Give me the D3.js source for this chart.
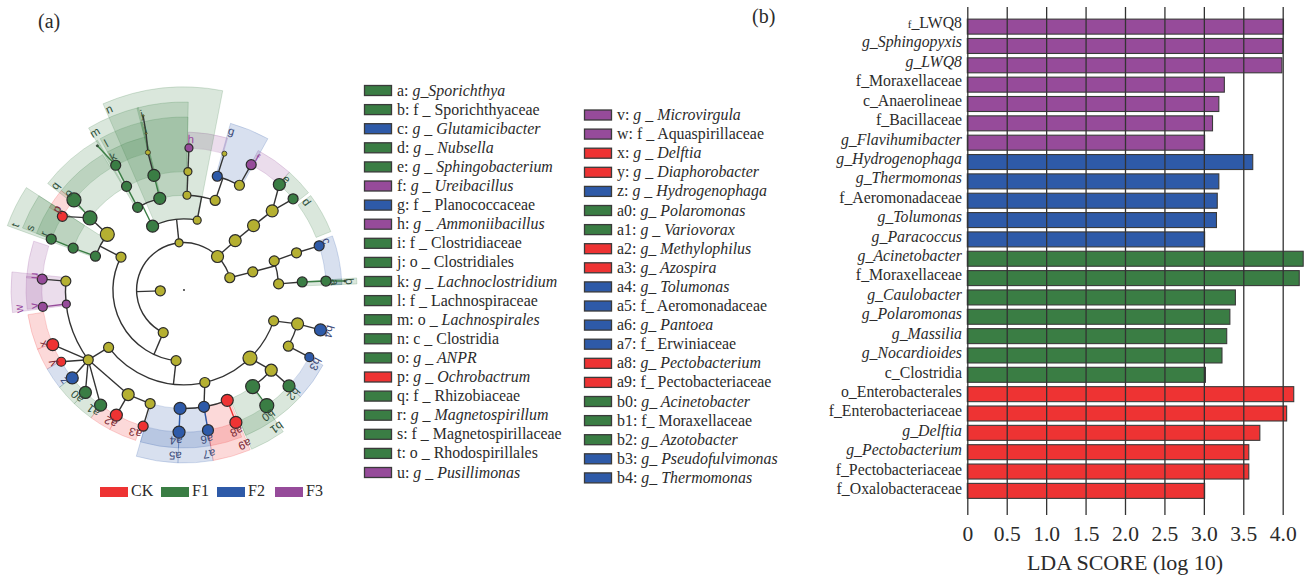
<!DOCTYPE html>
<html>
<head>
<meta charset="utf-8">
<script src="https://cdn.jsdelivr.net/npm/d3@7"></script>
<style>
  html, body { margin: 0; padding: 0; background: #fff; }
  text { font-family: "Liberation Serif", serif; fill: #2b2b2b; }
  .wheel-label { font-family: "Liberation Sans", sans-serif; font-size: 11.5px; }
</style>
</head>
<body>
<svg width="1308" height="578"></svg>
<script>
var svg = d3.select("svg");

var groupColor = { Y: "#b5b031", CK: "#ee3333", F1: "#3a7d44", F2: "#2e5aa8", F3: "#964b9a" };
var labelColor = { CK: "#7a2a35", F1: "#2f4f3a", F2: "#3b4a78", F3: "#96469c" };

// ---- LDA bars (panel b)
var ldaNames = ["f_LWQ8", "g_Sphingopyxis", "g_LWQ8", "f_Moraxellaceae", "c_Anaerolineae", "f_Bacillaceae", "g_Flavihumibacter",
  "g_Hydrogenophaga", "g_Thermomonas", "f_Aeromonadaceae", "g_Tolumonas", "g_Paracoccus",
  "g_Acinetobacter", "f_Moraxellaceae ", "g_Caulobacter", "g_Polaromonas", "g_Massilia", "g_Nocardioides", "c_Clostridia",
  "o_Enterobacterales", "f_Enterobacteriaceae", "g_Delftia", "g_Pectobacterium", "f_Pectobacteriaceae", "f_Oxalobacteraceae"];
var ldaValues = [4.01, 4.0, 3.99, 3.26, 3.19, 3.11, 3.01,
  3.62, 3.19, 3.17, 3.16, 3.01,
  4.26, 4.21, 3.40, 3.33, 3.29, 3.23, 3.02,
  4.14, 4.05, 3.71, 3.57, 3.57, 3.01];
var ldaGroups = ["F3", "F3", "F3", "F3", "F3", "F3", "F3",
  "F2", "F2", "F2", "F2", "F2",
  "F1", "F1", "F1", "F1", "F1", "F1", "F1",
  "CK", "CK", "CK", "CK", "CK", "CK"];
var ldaTicks = [0, 0.5, 1, 1.5, 2, 2.5, 3, 3.5, 4];

// ---- cladogram: [id, angle (deg clockwise from north), ring level, node size, group]
var treeNodes = [
  ["n0", 268, 1, 5, "Y"], ["f1", 268, 2, 0, "Y"],
  ["t1", 354, 2, 4, "Y"], ["f2", 354, 3, 0, "Y"],
  ["G3", 333.8, 3, 6, "F1"], ["f3", 333.8, 4, 0, "F1"], ["Y3", 10.7, 3, 4, "Y"], ["f4", 10.7, 4, 0, "Y"],
  ["p1", 330.7, 4, 5, "F1"], ["p2", 331, 5, 5, "F1"], ["k", 331.3, 6, 5, "F1"], ["k2", 329, 7.1, 1, "F1"],
  ["q1", 345.2, 4, 6, "F1"], ["q2", 345.3, 5, 6, "F1"], ["q3", 345.3, 6, 2.5, "Y"], ["q4", 346.4, 6.8, 1, "Y"], ["q5", 346.8, 7.55, 1, "Y"],
  ["r1", 1.8, 4, 4, "Y"], ["r2", 1.9, 5, 4, "Y"], ["h", 2, 6, 4, "F3"],
  ["s1", 19.2, 4, 5, "Y"], ["f5", 19.2, 5, 0, "Y"], ["s2", 16.3, 5, 5, "F2"], ["g", 16.5, 6, 2.5, "Y"],
  ["s3", 27.9, 5, 5, "Y"], ["f", 28.2, 6, 5, "F3"],
  ["A1", 45, 2, 6, "Y"], ["A3", 46.1, 3, 6, "Y"], ["A4", 47.2, 4, 6, "Y"], ["A5", 48.1, 5, 6, "Y"],
  ["e", 42.1, 6, 6, "F1"], ["d", 50.1, 6, 5, "F1"],
  ["A2", 75, 2, 5, "Y"], ["u1", 75.2, 3, 5, "Y"], ["f6", 75.2, 4, 0, "Y"],
  ["u2", 72.1, 4, 5, "Y"], ["u3", 71.7, 5, 5, "Y"], ["c", 71.9, 6, 5, "F2"],
  ["u4", 86.3, 4, 5, "Y"], ["u5", 86.1, 5, 5, "F1"], ["u6", 86.4, 6, 5, "F1"], ["u7", 86.8, 6.8, 1, "F1"],
  ["B1", 206, 2, 5, "Y"], ["f7", 205, 3, 0, "Y"],
  ["C1", 186.4, 3, 5, "Y"], ["f8", 186.4, 4, 0, "Y"],
  ["C2", 297.6, 3, 5, "Y"], ["f9", 297.6, 4, 0, "Y"],
  ["w1", 306, 4, 7, "Y"], ["o1", 307.5, 5, 7, "F1"], ["o", 309.3, 6, 7, "F1"], ["pp", 301.2, 6, 5, "CK"],
  ["tt", 290.9, 4, 5, "F1"], ["ss", 290.7, 5, 5, "F1"], ["rr", 291, 6, 5, "F1"],
  ["w5", 274.3, 5, 5, "Y"], ["uu", 274.4, 6, 5, "F3"], ["w4", 263.2, 5, 4, "F3"], ["vv", 263.2, 6, 4.5, "F3"],
  ["h5", 233.9, 5, 5, "Y"], ["h4", 232.7, 4, 5, "Y"],
  ["xx", 247.4, 6, 6, "CK"], ["yy", 239.7, 6, 4.5, "CK"], ["zz", 231.8, 6, 6, "F2"], ["a0", 223.9, 6, 6, "F1"], ["a1", 215.9, 6, 6, "F1"],
  ["m5", 208.1, 5, 6, "Y"], ["a2", 208.4, 6, 6, "CK"], ["m6", 196.6, 5, 5, "Y"], ["a3", 196.7, 6, 5, "CK"],
  ["b5", 167.3, 4, 5, "Y"],
  ["a4p", 181.9, 5, 6, "F2"], ["a4", 182, 6, 6, "F2"], ["a6p", 170.3, 5, 5.5, "F2"], ["a6", 170.3, 6, 5.5, "F2"],
  ["a8p", 158.6, 5, 6, "CK"], ["a8", 158.6, 6, 6, "CK"],
  ["g0", 135.9, 4, 7, "Y"], ["g1", 132.6, 5, 6, "Y"], ["b2", 132.4, 6, 6, "F1"], ["b0p", 144.6, 5, 7, "F1"], ["b0", 144.4, 6, 7, "F1"],
  ["y0", 109, 4, 5, "Y"], ["y1", 106.6, 5, 6, "Y"], ["b4", 106.3, 6, 6, "F2"], ["y2", 118.3, 5, 5, "Y"], ["b3", 118.2, 6, 4.5, "F2"]
];

// straight branches between two nodes
var treeLinks = [
  ["n0", "f1"], ["t1", "f2"], ["G3", "f3"], ["Y3", "f4"],
  ["p1", "p2"], ["p2", "k"], ["k", "k2"],
  ["q1", "q2"], ["q2", "q3"], ["q3", "q4"], ["q4", "q5"],
  ["r1", "r2"], ["r2", "h"], ["s1", "f5"], ["s2", "g"], ["s3", "f"],
  ["A1", "A3"], ["A3", "A4"], ["A4", "A5"], ["A5", "e"], ["A5", "d"],
  ["A2", "u1"], ["u1", "f6"], ["u2", "u3"], ["u3", "c"], ["u4", "u5"], ["u5", "u6"], ["u6", "u7"],
  ["B1", "f7"], ["C1", "f8"], ["C2", "f9"],
  ["w1", "o1"], ["o1", "o"], ["o1", "pp"], ["tt", "ss"], ["ss", "rr"],
  ["w5", "uu"], ["w4", "vv"],
  ["h5", "h4"], ["h5", "xx"], ["h5", "yy"], ["h5", "zz"], ["h5", "a0"], ["h5", "a1"], ["h5", "m5"],
  ["m5", "a2"], ["m5", "m6"], ["m6", "a3"],
  ["b5", "a6p"], ["a4p", "a4"], ["a6p", "a6"], ["a8p", "a8"],
  ["g0", "g1"], ["g1", "b2"], ["b0p", "b0"],
  ["y0", "y1"], ["y1", "b4"], ["y2", "b3"]
];

// branches that follow a ring: [level, from angle, to angle]
var treeArcs = [
  [2, 206, 435],
  [3, 333.8, 370.7], [3, 186.4, 297.6],
  [4, 330.7, 345.2], [4, 1.8, 19.2], [4, 290.9, 306], [4, 72.1, 86.3], [4, 109, 232.7],
  [5, 16.3, 27.9], [5, 233.9, 274.3], [5, 158.6, 181.9], [5, 132.6, 144.6], [5, 106.6, 118.3]
];

// clade bands: [label, from angle, to angle, level, group]
var cladeBands = [
  ["a", 86, 88, 6, "F1"], ["b", 86, 88, 5, "F1"], ["c", 70, 88, 6, "F2"], ["d", 53.3, 68.3, 6, "F1"], ["e", 41.8, 52, 6, "F1"],
  ["f", 28, 41.8, 6, "F3"], ["g", 15.6, 29, 5, "F2"], ["h", 1.6, 16, 6, "F3"],
  ["i", 345.5, 361.3, 5, "F1"], ["j", 345.5, 361.3, 4, "F1"],
  ["k", 331, 346, 6, "F1"], ["l", 331, 346, 5, "F1"], ["m", 329.5, 346, 4, "F1"], ["n", 336.5, 371, 3, "F1"],
  ["o", 309, 329, 6, "F1"], ["p", 301.5, 309, 6, "CK"], ["q", 308, 330, 5, "F1"],
  ["r", 291, 303, 6, "F1"], ["s", 291, 303, 5, "F1"], ["t", 290, 303, 4, "F1"],
  ["u", 274.4, 288, 6, "F3"], ["v", 263, 275, 6, "F3"], ["w", 262.5, 276, 5, "F3"],
  ["x", 248, 261, 6, "CK"], ["y", 240, 248, 6, "CK"], ["z", 232, 240, 6, "F2"],
  ["a0", 224, 232, 6, "F1"], ["a1", 216, 224, 6, "F1"], ["a2", 208, 216, 6, "CK"], ["a3", 197.8, 208, 6, "CK"],
  ["a4", 182, 196, 6, "F2"], ["a5", 182, 196, 5, "F2"], ["a6", 170.3, 182, 6, "F2"], ["a7", 170.3, 182, 5, "F2"],
  ["a8", 158.6, 170.3, 6, "CK"], ["a9", 157.5, 170.3, 5, "CK"],
  ["b0", 145, 157, 6, "F1"], ["b1", 145, 157, 5, "F1"], ["b2", 132.5, 145, 6, "F1"], ["b3", 118.4, 132.5, 6, "F2"], ["b4", 105, 106, 6, "F2"]
];
var bandsWithoutFill = ["b4"];

// ---- legend of the cladogram: [key, rank, name, italic, group]
var legendLeft = [
  ["a", "g_", "Sporichthya", 1, "F1"], ["b", "f _ ", "Sporichthyaceae", 0, "F1"], ["c", "g _ ", "Glutamicibacter", 1, "F2"],
  ["d", "g _ ", "Nubsella", 1, "F1"], ["e", "g _ ", "Sphingobacterium", 1, "F1"], ["f", "g _ ", "Ureibacillus", 1, "F3"],
  ["g", "f _ ", "Planococcaceae", 0, "F2"], ["h", "g _ ", "Ammoniibacillus", 1, "F3"], ["i", "f _ ", "Clostridiaceae", 0, "F1"],
  ["j", "o _ ", "Clostridiales", 0, "F1"], ["k", "g _ ", "Lachnoclostridium", 1, "F1"], ["l", "f _ ", "Lachnospiraceae", 0, "F1"],
  ["m", "o _ ", "Lachnospirales", 1, "F1"], ["n", "c _ ", "Clostridia", 0, "F1"], ["o", "g _ ", "ANPR", 1, "F1"],
  ["p", "g _ ", "Ochrobactrum", 1, "CK"], ["q", "f _ ", "Rhizobiaceae", 0, "F1"], ["r", "g _ ", "Magnetospirillum", 1, "F1"],
  ["s", "f _ ", "Magnetospirillaceae", 0, "F1"], ["t", "o _ ", "Rhodospirillales", 0, "F1"], ["u", "g _ ", "Pusillimonas", 1, "F3"]
];
var legendRight = [
  ["v", "g _ ", "Microvirgula", 1, "F3"], ["w", "f _ ", "Aquaspirillaceae", 0, "F3"], ["x", "g _ ", "Delftia", 1, "CK"],
  ["y", "g _ ", "Diaphorobacter", 1, "CK"], ["z", "g _ ", "Hydrogenophaga", 1, "F2"], ["a0", "g_ ", "Polaromonas", 1, "F1"],
  ["a1", "g _ ", "Variovorax", 1, "F1"], ["a2", "g_ ", "Methylophilus", 1, "CK"], ["a3", "g_ ", "Azospira", 1, "CK"],
  ["a4", "g_ ", "Tolumonas", 1, "F2"], ["a5", "f_ ", "Aeromonadaceae", 0, "F2"], ["a6", "g_ ", "Pantoea", 1, "F2"],
  ["a7", "f_ ", "Erwiniaceae", 0, "F2"], ["a8", "g_ ", "Pectobacterium", 1, "CK"], ["a9", "f_ ", "Pectobacteriaceae", 0, "CK"],
  ["b0", "g_ ", "Acinetobacter", 1, "F1"], ["b1", "f_ ", "Moraxellaceae", 0, "F1"], ["b2", "g_ ", "Azotobacter", 1, "F1"],
  ["b3", "g_ ", "Pseudofulvimonas", 1, "F2"], ["b4", "g_ ", "Thermomonas", 1, "F2"]
];
var groupNames = ["CK", "F1", "F2", "F3"];

// panel letters
svg.append("text").attr("x", 38).attr("y", 28).attr("font-size", 20).text("(a)");
svg.append("text").attr("x", 752).attr("y", 23).attr("font-size", 20).text("(b)");

// ---- cladogram
var wheel = svg.append("g").attr("transform", "translate(184,290)");
var radius = d3.scaleLinear().domain([0, 1]).range([0, 23.7]);
var bandOuter = d3.scaleLinear().domain([6, 3]).range([158, 203]);
var toRad = d3.scaleLinear().domain([0, 360]).range([0, 2 * Math.PI]);
var arcGen = d3.arc();
var nodeById = new Map(treeNodes.map(function (d) { return [d[0], d]; }));

function point(d) {
  return d3.pointRadial(toRad(d[1]), radius(d[2]));
}

wheel.append("g").selectAll("path")
  .data(cladeBands.filter(function (d) { return bandsWithoutFill.indexOf(d[0]) < 0; }))
  .enter().append("path")
  .attr("d", function (d) {
    return arcGen({ innerRadius: radius(d[3]), outerRadius: bandOuter(d[3]), startAngle: toRad(d[1]), endAngle: toRad(d[2]) });
  })
  .attr("fill", function (d) { return groupColor[d[4]]; })
  .attr("fill-opacity", 0.19)
  .attr("stroke", function (d) { return groupColor[d[4]]; })
  .attr("stroke-opacity", 0.2);

wheel.append("g").selectAll("path")
  .data(treeArcs)
  .enter().append("path")
  .attr("d", function (d) {
    return arcGen({ innerRadius: radius(d[0]), outerRadius: radius(d[0]), startAngle: toRad(d[1]), endAngle: toRad(d[2]) });
  })
  .attr("fill", "none").attr("stroke", "#333").attr("stroke-width", 1.4);

wheel.append("g").selectAll("line")
  .data(treeLinks)
  .enter().append("line")
  .attr("x1", function (d) { return point(nodeById.get(d[0]))[0]; })
  .attr("y1", function (d) { return point(nodeById.get(d[0]))[1]; })
  .attr("x2", function (d) { return point(nodeById.get(d[1]))[0]; })
  .attr("y2", function (d) { return point(nodeById.get(d[1]))[1]; })
  .attr("stroke", function (d) {
    var a = nodeById.get(d[0])[4], b = nodeById.get(d[1])[4];
    return a === b && a !== "Y" ? groupColor[a] : "#333";
  })
  .attr("stroke-width", 1.4);

wheel.append("g").selectAll("circle")
  .data(treeNodes.filter(function (d) { return d[3] > 0; }))
  .enter().append("circle")
  .attr("cx", function (d) { return point(d)[0]; })
  .attr("cy", function (d) { return point(d)[1]; })
  .attr("r", function (d) { return d[3]; })
  .attr("fill", function (d) { return groupColor[d[4]]; })
  .attr("stroke", "#2b2b2b")
  .attr("stroke-width", function (d) { return d[3] < 3 ? 0.8 : 1.2; });

wheel.append("circle").attr("r", 0.9).attr("fill", "#222");

wheel.append("g").selectAll("text")
  .data(cladeBands)
  .enter().append("text")
  .attr("class", "wheel-label")
  .attr("transform", function (d) {
    var p = d3.pointRadial(toRad(d[1] + 1), bandOuter(d[3]) - 7);
    return "translate(" + p[0] + "," + p[1] + ") rotate(" + d[1] + ")";
  })
  .attr("text-anchor", "middle")
  .attr("dy", "0.35em")
  .style("fill", function (d) { return labelColor[d[4]]; })
  .text(function (d) { return d[0]; });

// ---- legends
function drawLegend(rows, swatchX, firstY) {
  var y = d3.scalePoint().domain(rows.map(function (d) { return d[0]; }))
    .range([firstY, firstY + 19.1 * (rows.length - 1)]);
  var row = svg.append("g").selectAll("g").data(rows).enter().append("g")
    .attr("transform", function (d) { return "translate(" + swatchX + "," + y(d[0]) + ")"; });
  row.append("rect").attr("x", 0.5).attr("y", -5).attr("width", 27).attr("height", 10)
    .attr("fill", function (d) { return groupColor[d[4]]; })
    .attr("stroke", "#3a3a3a").attr("stroke-width", 1.3);
  var label = row.append("text").attr("x", 33).attr("y", 5).attr("font-size", 15.9);
  label.append("tspan").text(function (d) { return d[0] + ": "; });
  label.append("tspan").attr("font-style", function (d) { return d[1][0] === "g" ? "italic" : null; })
    .text(function (d) { return d[1]; });
  label.append("tspan").attr("font-style", function (d) { return d[3] ? "italic" : null; })
    .text(function (d) { return d[2]; });
}
drawLegend(legendLeft, 364, 90.5);
drawLegend(legendRight, 584, 115);

// group key under the wheel
var keyX = d3.scaleOrdinal().domain(groupNames).range([100, 161, 217, 275]);
var key = svg.append("g").selectAll("g").data(groupNames).enter().append("g")
  .attr("transform", function (d) { return "translate(" + keyX(d) + ",487)"; });
key.append("rect").attr("width", 28).attr("height", 10).attr("fill", function (d) { return groupColor[d]; });
key.append("text").attr("x", 31).attr("y", 9).attr("font-size", 16).text(function (d) { return d; });

// ---- LDA bars
var x = d3.scaleLinear().domain([0, 4]).range([967.3, 1282.7]);
var y = d3.scaleBand().domain(d3.range(ldaNames.length)).range([17, 500.5]).paddingInner(0.225).paddingOuter(0.11);
var labelY = d3.scalePoint().domain(d3.range(ldaNames.length)).range([28, 494]);

svg.append("g").selectAll("rect")
  .data(ldaValues)
  .enter().append("rect")
  .attr("x", x(0))
  .attr("y", function (d, i) { return y(i); })
  .attr("width", function (d) { return x(d) - x(0); })
  .attr("height", y.bandwidth())
  .attr("fill", function (d, i) { return groupColor[ldaGroups[i]]; })
  .attr("stroke", "#3a3a3a")
  .attr("stroke-width", 1.1);

var axis = svg.append("g")
  .attr("transform", "translate(0,515)")
  .call(d3.axisBottom(x).tickValues(ldaTicks).tickSize(-508).tickPadding(10)
    .tickFormat(function (d) { return d === 0 ? "0" : d3.format(".1f")(d); }));
axis.select(".domain").remove();
axis.selectAll("line").attr("stroke", "#333").attr("stroke-width", 1.3);
axis.selectAll("text").attr("font-size", 21.5).attr("font-family", "Liberation Serif").attr("y", 11);

var ldaLabels = svg.append("g").selectAll("text")
  .data(ldaNames)
  .enter().append("text")
  .attr("x", 962)
  .attr("y", function (d, i) { return labelY(i); })
  .attr("text-anchor", "end")
  .attr("font-size", 15.8)
  .attr("font-style", function (d) { return d[0] === "g" ? "italic" : null; });
// the first label has a smaller prefix letter in the original
ldaLabels.append("tspan").attr("font-size", function (d, i) { return i === 0 ? 11 : null; })
  .text(function (d) { return d.slice(0, 1); });
ldaLabels.append("tspan").text(function (d) { return d.trim().slice(1); });

svg.append("text").attr("x", 1125).attr("y", 570).attr("text-anchor", "middle")
  .attr("font-size", 22).text("LDA SCORE (log 10)");
</script>
</body>
</html>
